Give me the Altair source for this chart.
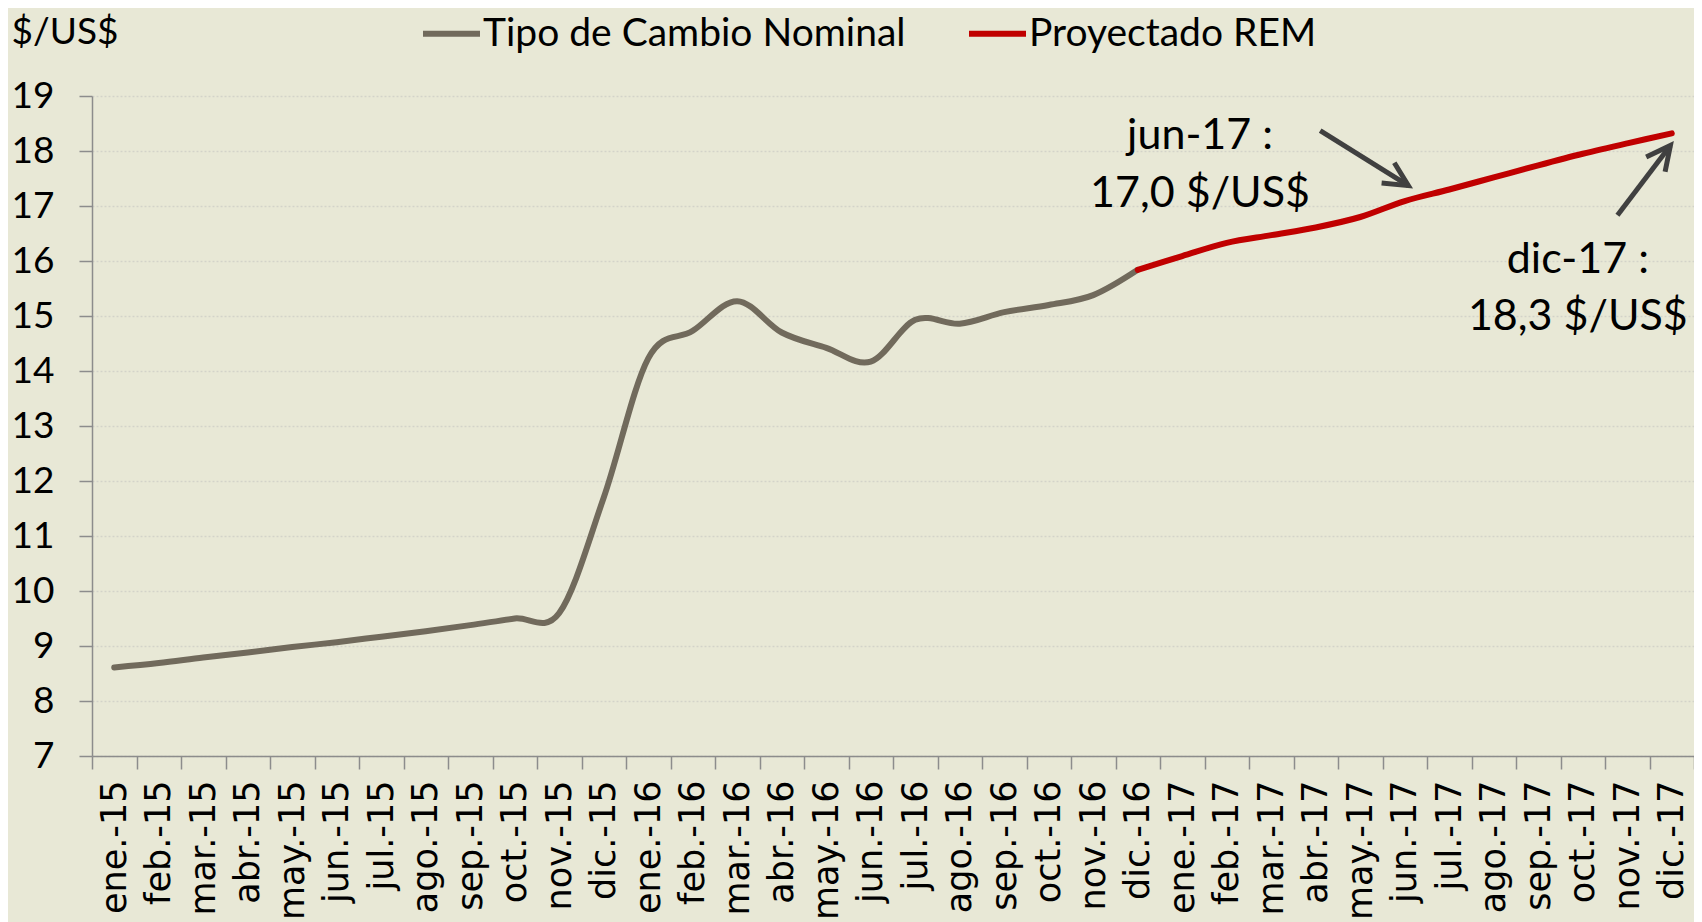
import altair as alt
import pandas as pd

# ---------------- data ----------------
months = [
    "ene.-15", "feb.-15", "mar.-15", "abr.-15", "may.-15", "jun.-15",
    "jul.-15", "ago.-15", "sep.-15", "oct.-15", "nov.-15", "dic.-15",
    "ene.-16", "feb.-16", "mar.-16", "abr.-16", "may.-16", "jun.-16",
    "jul.-16", "ago.-16", "sep.-16", "oct.-16", "nov.-16", "dic.-16",
    "ene.-17", "feb.-17", "mar.-17", "abr.-17", "may.-17", "jun.-17",
    "jul.-17", "ago.-17", "sep.-17", "oct.-17", "nov.-17", "dic.-17",
]
nominal_months = months[:24]
nominal_values = [8.61, 8.69, 8.79, 8.88, 8.98, 9.07, 9.17, 9.27, 9.38, 9.50,
                  9.60, 11.70, 14.23, 14.73, 15.27, 14.70, 14.42, 14.17, 14.93,
                  14.86, 15.07, 15.20, 15.38, 15.84]
rem_months = months[23:]
rem_values = [15.84, 16.09, 16.33, 16.47, 16.61, 16.80, 17.09, 17.30, 17.52,
              17.74, 17.95, 18.14, 18.32]

series_names = ["Tipo de Cambio Nominal", "Proyectado REM"]
series_colors = ["#716A5C", "#C00000"]
y_ticks = list(range(7, 20))

# annotation texts (month-index position, value)
ann_text = ["jun-17 :", "17,0 $/US$", "dic-17 :", "18,3 $/US$"]
ann_pos = [24.9, 24.9, 33.39, 33.39]
ann_val = [18.04, 16.99, 15.78, 14.74]

# arrows (month-index position, value) from start to tip
arrow_pos0 = [27.60, 34.28]
arrow_val0 = [18.37, 16.83]
arrow_pos1 = [29.58, 35.47]
arrow_val1 = [17.37, 18.10]
arrow_angle = [122, 38]

# ---------------- frames ----------------
df_nom = pd.DataFrame({"mes": nominal_months, "valor": nominal_values,
                       "serie": series_names[0]})
df_rem = pd.DataFrame({"mes": rem_months, "valor": rem_values,
                       "serie": series_names[1]})
df_ann = pd.DataFrame({"pos": ann_pos, "valor": ann_val, "t": ann_text})
df_arrow = pd.DataFrame({"pos": arrow_pos0, "valor": arrow_val0,
                         "pos2": arrow_pos1, "valor2": arrow_val1})
df_head = pd.DataFrame({"pos": arrow_pos1, "valor": arrow_val1,
                        "ang": arrow_angle})

W, H = 1602, 660
AXIS_GRAY = "#8c8c8c"

y_scale = alt.Scale(domain=[7, 19], nice=False, zero=False)
y_axis = alt.Axis(
    title="$/US$", titleAngle=0, titleAlign="left", titleBaseline="alphabetic",
    titleX=-81, titleY=-53, titleFont="Lato", titleFontSize=37,
    titleFontWeight="normal", titleColor="black",
    labelFont="Lato", labelFontSize=37, labelColor="black", labelPadding=25,
    tickSize=13, tickColor=AXIS_GRAY, tickWidth=1.5,
    domainColor=AXIS_GRAY, domainWidth=1.5,
    values=y_ticks, grid=True, gridColor="#d3d3c9", gridDash=[2, 2],
    gridWidth=1.3,
)
x_band = alt.Scale(type="band", domain=months, paddingInner=0, paddingOuter=0)
x_axis = alt.Axis(
    title=None, labelAngle=-90, labelFont="DejaVu Sans", labelFontSize=35,
    labelColor="black", tickBand="extent", tickSize=13, tickColor=AXIS_GRAY,
    tickWidth=1.5, domainColor=AXIS_GRAY, domainWidth=1.5, labelPadding=11,
    grid=False, labelOverlap=False,
)
color_enc = alt.Color(
    "serie:N",
    scale=alt.Scale(domain=series_names, range=series_colors),
    legend=alt.Legend(
        orient="none", legendX=328, legendY=-94, direction="horizontal",
        title=None, symbolType="stroke", symbolStrokeWidth=6, symbolSize=3249,
        labelFont="Lato", labelFontSize=39, labelColor="black",
        labelOffset=0, columnPadding=51, labelLimit=1000,
    ),
)
q_scale = alt.Scale(domain=[0, 36], nice=False, zero=False)

gray = alt.Chart(df_nom).mark_line(
    interpolate="cardinal", strokeWidth=6, strokeCap="round"
).encode(
    x=alt.X("mes:O", scale=x_band, axis=x_axis, bandPosition=0.5),
    y=alt.Y("valor:Q", scale=y_scale, axis=y_axis),
    color=color_enc,
)
red = alt.Chart(df_rem).mark_line(
    interpolate="cardinal", strokeWidth=6, strokeCap="round"
).encode(
    x=alt.X("mes:O", scale=x_band, axis=None, bandPosition=0.5),
    y=alt.Y("valor:Q", scale=y_scale, axis=y_axis),
    color=color_enc,
)
texts = alt.Chart(df_ann).mark_text(
    font="Lato", fontSize=43, color="black", align="center",
    baseline="alphabetic"
).encode(
    x=alt.X("pos:Q", scale=q_scale, axis=None),
    y=alt.Y("valor:Q", scale=y_scale, axis=y_axis),
    text="t:N",
)
shafts = alt.Chart(df_arrow).mark_rule(
    color="#404040", strokeWidth=5
).encode(
    x=alt.X("pos:Q", scale=q_scale, axis=None),
    x2="pos2:Q",
    y=alt.Y("valor:Q", scale=y_scale, axis=y_axis),
    y2="valor2:Q",
)
heads = alt.Chart(df_head).mark_point(
    shape="M-0.5,1L0,0L0.5,1", filled=False, size=2304, strokeWidth=5,
    color="#404040", opacity=1, strokeJoin="miter"
).encode(
    x=alt.X("pos:Q", scale=q_scale, axis=None),
    y=alt.Y("valor:Q", scale=y_scale, axis=y_axis),
    angle=alt.Angle("ang:Q", scale=None),
)

chart = alt.layer(gray, red, texts, shafts, heads).resolve_scale(
    x="independent"
).properties(
    width=W, height=H,
    background="#E8E8D6",
    autosize=alt.AutoSizeParams(type="none"),
    padding={"left": 84, "top": 88, "right": 0, "bottom": 166},
).configure_view(stroke=None)

chart.save("out.html", embed_options={"renderer": "svg", "actions": False})
